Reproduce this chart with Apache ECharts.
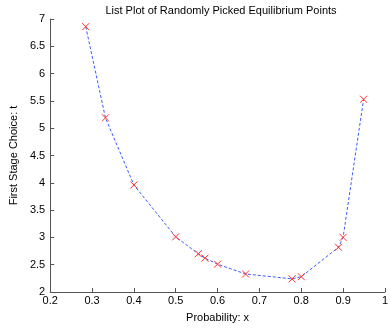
<!DOCTYPE html>
<html>
<head>
<meta charset="utf-8">
<script src="https://cdn.jsdelivr.net/npm/echarts@6/dist/echarts.min.js"></script>
<style>
  html, body { margin: 0; padding: 0; background: #fff; }
  #main { width: 391px; height: 328px; }
</style>
</head>
<body>
<div id="main"></div>
<script>
var xValues = [0.285, 0.332, 0.400, 0.500, 0.554, 0.570, 0.600, 0.667, 0.778, 0.800, 0.889, 0.900, 0.949];
var yValues = [6.86, 5.19, 3.96, 3.01, 2.70, 2.62, 2.51, 2.33, 2.24, 2.28, 2.82, 3.00, 5.53];

var points = xValues.map(function (x, i) { return [x, yValues[i]]; });
var crossPath = 'path://M0,0L10,10M10,0L0,10';
var font = 'Liberation Sans, Arial, sans-serif';

var myChart = echarts.init(document.getElementById('main'));
myChart.setOption({
  animation: false,
  backgroundColor: '#fff',
  title: {
    text: 'List Plot of Randomly Picked Equilibrium Points',
    left: 216,
    textAlign: 'center',
    top: 0,
    textStyle: { fontFamily: font, fontSize: 11, fontWeight: 'normal', color: '#000' }
  },
  grid: { left: 43, right: 1, top: 19, bottom: 35 },
  xAxis: {
    type: 'value',
    min: 0.2,
    max: 1,
    interval: 0.1,
    name: 'Probability: x',
    nameLocation: 'middle',
    nameGap: 20,
    nameTextStyle: { fontFamily: font, fontSize: 11, color: '#000' },
    axisLine: { lineStyle: { color: '#555' } },
    axisTick: { inside: true, length: 4, lineStyle: { color: '#555' } },
    axisLabel: {
      fontFamily: font, fontSize: 11, color: '#000', margin: 3,
      showMinLabel: true, showMaxLabel: true, hideOverlap: false,
      formatter: function (v) { return v === 1 ? '1' : v.toFixed(1); }
    },
    splitLine: { show: false }
  },
  yAxis: {
    type: 'value',
    min: 2,
    max: 7,
    interval: 0.5,
    name: 'First Stage Choice: t',
    nameLocation: 'middle',
    nameGap: 30,
    nameTextStyle: { fontFamily: font, fontSize: 11, color: '#000' },
    axisLine: { show: true, lineStyle: { color: '#555' } },
    axisTick: { show: true, inside: true, length: 4, lineStyle: { color: '#555' } },
    axisLabel: { fontFamily: font, fontSize: 11, color: '#000', margin: 5 },
    splitLine: { show: false }
  },
  series: [{
    type: 'line',
    data: points,
    symbol: crossPath,
    symbolSize: 7,
    showAllSymbol: true,
    lineStyle: { color: '#3a5cff', width: 1, type: [3, 2] },
    itemStyle: { color: 'none', borderColor: '#ff3030', borderWidth: 1 }
  }]
});
</script>
</body>
</html>
